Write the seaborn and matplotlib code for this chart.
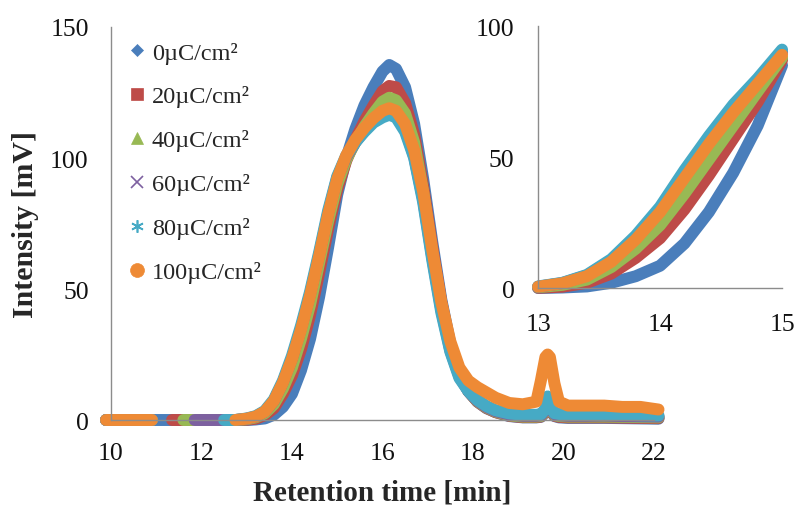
import numpy as np
import pandas as pd
import matplotlib
matplotlib.use("Agg")
import matplotlib.pyplot as plt
from matplotlib.lines import Line2D
import seaborn as sns

# ---------------- data ----------------
labels = ["0\u00b5C/cm\u00b2", "20\u00b5C/cm\u00b2", "40\u00b5C/cm\u00b2",
          "60\u00b5C/cm\u00b2", "80\u00b5C/cm\u00b2", "100\u00b5C/cm\u00b2"]

nan = np.nan

# main chromatogram
time_min = [9.9, 10.9, 11.0, 11.35, 11.6, 11.85, 12.5, 12.75,
            13.0, 13.2, 13.4, 13.6, 13.8, 14.0, 14.2, 14.4, 14.6, 14.8, 15.0,
            15.2, 15.4, 15.6, 15.8, 16.0, 16.15, 16.3, 16.5, 16.7, 16.9,
            17.1, 17.3, 17.5, 17.7, 17.9, 18.1, 18.3, 18.5, 18.8,
            19.1, 19.4, 19.5, 19.6, 19.65, 19.7, 19.8, 19.9,
            20.1, 20.5, 20.9, 21.3, 21.7, 22.1]

int_0 = [0, 0, 0, 0, 0, 0, 0, 0,
         0.0, 0.2, 0.6, 2.0, 5.0, 10.0, 19.0, 31.0, 47.0, 66.0, 86.0,
         100.0, 111.0, 120.0, 127.0, 133.0, 135.5, 134.0, 127.0, 113.0, 92.0,
         68.0, 46.0, 29.0, 18.0, 11.0, 7.0, 4.5, 3.0, 1.5,
         1.0, 1.0, 1.2, 3.0, 7.0, 4.0, 1.5, 1.0,
         0.8, 0.8, 0.8, 0.7, 0.6, 0.5]
int_20 = [0, 0, nan, 0, 0, 0, 0, 0,
          0.1, 0.5, 1.8, 4.5, 10.0, 17.0, 27.0, 40.0, 56.0, 73.0, 88.0,
          99.0, 107.0, 114.0, 120.0, 125.5, 127.5, 127.0, 121.0, 109.0, 89.0,
          66.0, 45.0, 28.5, 17.5, 11.0, 7.0, 4.6, 3.0, 1.6,
          1.1, 1.1, 1.3, 3.2, 7.5, 4.2, 1.6, 1.2,
          1.0, 1.0, 1.0, 0.9, 0.8, 0.7]
int_40 = [0, 0, nan, nan, 0, 0, 0, 0,
          0.3, 1.0, 2.6, 6.0, 12.0, 20.0, 31.0, 44.0, 60.0, 76.0, 90.0,
          99.5, 106.0, 112.0, 117.0, 121.5, 123.0, 122.0, 117.0, 106.0, 87.0,
          64.0, 44.0, 27.5, 17.0, 11.0, 7.2, 4.8, 3.2, 1.8,
          1.3, 1.3, 1.5, 3.5, 8.0, 4.5, 1.9, 1.5,
          1.3, 1.3, 1.3, 1.2, 1.1, 1.0]
int_60 = [0, 0, nan, nan, nan, 0, 0, 0,
          0.5, 1.3, 3.2, 7.3, 14.5, 23.5, 35.0, 48.0, 63.0, 79.0, 92.5,
          100.5, 106.0, 110.5, 114.0, 116.5, 117.5, 116.5, 111.0, 100.5, 84.0,
          62.0, 42.0, 26.5, 16.5, 11.0, 7.4, 5.0, 3.4, 2.1,
          1.6, 1.6, 1.8, 3.8, 8.5, 4.8, 2.2, 1.8,
          1.6, 1.6, 1.7, 1.5, 1.4, 1.3]
int_80 = [0, 0, nan, nan, nan, nan, 0, 0,
          0.6, 1.5, 3.5, 7.8, 15.0, 24.5, 36.0, 49.0, 64.0, 80.0, 93.0,
          101.0, 106.0, 110.0, 113.5, 115.5, 116.5, 115.5, 110.0, 100.0, 83.0,
          61.0, 41.0, 26.0, 16.0, 11.0, 7.6, 5.3, 3.7, 2.5,
          2.0, 2.0, 2.2, 4.2, 9.0, 5.2, 2.6, 2.3,
          2.0, 2.0, 2.3, 2.0, 1.8, 1.7]
int_100 = [0, 0, nan, nan, nan, nan, nan, 0,
           0.5, 1.3, 3.2, 7.3, 14.3, 23.3, 34.5, 47.5, 62.5, 78.5, 92.0,
           101.0, 107.0, 111.5, 115.2, 118.0, 119.0, 118.0, 113.0, 103.0, 87.0,
           65.0, 45.0, 30.0, 20.0, 15.0, 12.5, 10.5, 8.5, 6.5,
           6.0, 7.0, 15.0, 24.0, 25.0, 24.0, 14.0, 7.0,
           5.5, 5.5, 5.5, 5.0, 5.0, 4.0]

# inset (zoom of the onset, 13-15 min)
inset_time = [13.0, 13.2, 13.4, 13.6, 13.8, 14.0, 14.2, 14.4, 14.6, 14.8, 15.0]
inset_0 = [0.0, 0.2, 0.6, 2.0, 4.5, 8.5, 17.0, 29.0, 44.0, 62.0, 85.0]
inset_20 = [0.1, 0.5, 2.0, 5.5, 11.5, 19.0, 30.0, 43.0, 57.0, 71.0, 87.0]
inset_40 = [0.3, 1.2, 3.2, 8.0, 15.0, 24.0, 36.0, 49.0, 62.0, 75.0, 88.0]
inset_60 = [0.5, 1.9, 4.8, 10.5, 19.0, 30.0, 43.5, 56.5, 68.5, 79.0, 90.0]
inset_80 = [0.6, 2.0, 5.0, 11.0, 20.0, 31.0, 45.0, 58.0, 70.0, 80.0, 91.0]
inset_100 = [0.5, 1.8, 4.5, 10.0, 18.5, 29.0, 42.0, 55.0, 67.0, 78.0, 89.0]

series = [int_0, int_20, int_40, int_60, int_80, int_100]
inset_series = [inset_0, inset_20, inset_40, inset_60, inset_80, inset_100]

x_ticks_main = [10, 12, 14, 16, 18, 20, 22]
y_ticks_main = [0, 50, 100, 150]
x_ticks_inset = [13, 14, 15]
y_ticks_inset = [0, 50, 100]

# ---------------- style ----------------
colors = ["#4a7ebb", "#be4b48", "#98b954", "#7d60a0", "#46aac5", "#ee8a35"]
markers = ["D", "s", "^", "x", (6, 2, 0), "o"]
msizes = [6, 8, 8, 8, 9, 10]

sns.set_style("white")
plt.rcParams["font.family"] = ["Liberation Serif", "DejaVu Serif"]

spine_col = "#8c8c8c"
LW = 8.6

fig = plt.figure(figsize=(7.96, 5.10), dpi=100)
ax = fig.add_axes([0.1394, 0.1745, 0.6822, 0.7706])
axi = fig.add_axes([0.676, 0.4333, 0.3065, 0.5137])
axi.patch.set_alpha(0)


def draw(axis, times, all_vals):
    for vals, col in zip(all_vals, colors):
        df = pd.DataFrame({"t": times, "v": vals})
        seg = df.v.isna().cumsum()
        df = df.assign(seg=seg).dropna()
        for _, part in df.groupby("seg"):
            if len(part) < 2:
                continue
            sns.lineplot(data=part, x="t", y="v", ax=axis, color=col,
                         linewidth=LW, sort=False, estimator=None,
                         solid_capstyle="round", solid_joinstyle="round",
                         legend=False)
    for ln in axis.lines:
        ln.set_clip_on(False)


draw(ax, time_min, series)
draw(axi, inset_time, inset_series)

for a, xt, yt, xl, yl, xp, yp in [
        (ax, x_ticks_main, y_ticks_main, (10, 22), (0, 150), 10, 10),
        (axi, x_ticks_inset, y_ticks_inset, (13, 15), (0, 100), 12, 11)]:
    a.set_xlim(*xl)
    a.set_ylim(*yl)
    a.set_xticks(xt)
    a.set_yticks(yt)
    for s in ["top", "right"]:
        a.spines[s].set_visible(False)
    for s in ["left", "bottom"]:
        a.spines[s].set_color(spine_col)
        a.spines[s].set_linewidth(1.0)
    a.tick_params(axis="both", which="major", direction="out", length=6,
                  width=1.0, color=spine_col, labelsize=18.5,
                  labelcolor="#111111")
    a.tick_params(axis="x", pad=xp)
    a.tick_params(axis="y", pad=yp)
    a.set_xlabel("")
    a.set_ylabel("")

ax.set_xlabel("Retention time [min]", fontsize=21, fontweight="bold", labelpad=10)
ax.set_ylabel("Intensity [mV]", fontsize=21.5, fontweight="bold", labelpad=8)

handles = [Line2D([], [], linestyle="none", marker=m, markersize=ms, color=c,
                  markeredgewidth=1.2 if m in ("x", (6, 2, 0)) else 0.5)
           for m, ms, c in zip(markers, msizes, colors)]
ax.legend(handles, labels, loc="upper left", bbox_to_anchor=(0.008, 1.0),
          frameon=False, fontsize=17.5, labelspacing=0.9, handlelength=0.6,
          handletextpad=0.3, borderaxespad=0.2)

fig.savefig("out.png", dpi=100)
